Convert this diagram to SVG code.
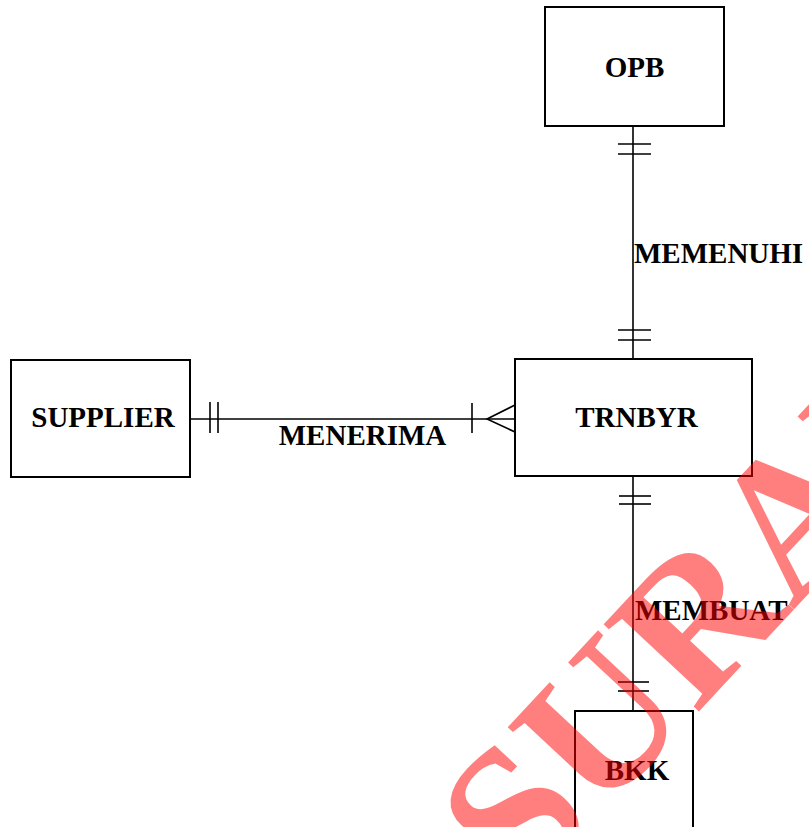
<svg xmlns="http://www.w3.org/2000/svg" width="809" height="827" viewBox="0 0 809 827">
  <style>
    .entity rect { fill: #ffffff; stroke: #000000; stroke-width: 2; }
    .label { font-family: "Liberation Serif", "Times New Roman", serif; font-weight: bold; font-size: 29px; fill: #000000; }
    .centered { text-anchor: middle; }
    .conn line, .conn path { stroke: #000000; stroke-width: 1.6; fill: none; }
    .mark { font-family: "Liberation Serif", "Times New Roman", serif; font-weight: bold; font-size: 197px; fill: #ff0000; }
  </style>
  <rect width="809" height="827" fill="#ffffff"/>

  <!-- relationships -->
  <g id="connectors" class="conn">
    <!-- OPB to TRNBYR: one-to-one -->
    <line x1="633" y1="126" x2="633" y2="359"/>
    <line x1="618" y1="144" x2="651" y2="144"/>
    <line x1="618" y1="154" x2="651" y2="154"/>
    <line x1="618" y1="330" x2="651" y2="330"/>
    <line x1="618" y1="340" x2="651" y2="340"/>

    <!-- SUPPLIER to TRNBYR: one-to-many -->
    <line x1="190" y1="419" x2="515" y2="419"/>
    <line x1="210" y1="402" x2="210" y2="433"/>
    <line x1="218" y1="402" x2="218" y2="433"/>
    <line x1="472" y1="403" x2="472" y2="433"/>
    <path d="M515,405 L487,419 L515,432"/>

    <!-- TRNBYR to BKK: one-to-one -->
    <line x1="633" y1="476" x2="633" y2="711"/>
    <line x1="619" y1="496" x2="651" y2="496"/>
    <line x1="619" y1="504" x2="651" y2="504"/>
    <line x1="618" y1="682" x2="649" y2="682"/>
    <line x1="618" y1="691" x2="649" y2="691"/>
  </g>

  <!-- relationship names -->
  <text class="label" x="634" y="263">MEMENUHI</text>
  <text class="label centered" x="362.5" y="445">MENERIMA</text>
  <text class="label" x="635" y="620">MEMBUAT</text>

  <g id="opb" class="entity">
    <rect x="545" y="7" width="179" height="119"/>
    <text class="label centered" x="634.5" y="77">OPB</text>
  </g>

  <g id="supplier" class="entity">
    <rect x="11" y="360" width="179" height="117"/>
    <text class="label centered" x="103" y="427">SUPPLIER</text>
  </g>

  <g id="trnbyr" class="entity">
    <rect x="515" y="359" width="237" height="117"/>
    <text class="label centered" x="636.5" y="427">TRNBYR</text>
  </g>

  <g id="bkk" class="entity">
    <rect x="575" y="711" width="118" height="130"/>
    <text class="label centered" x="637" y="780">BKK</text>
  </g>

  <!-- stamped watermark, half-transparent red over everything -->
  <g opacity="0.5">
    <text class="mark" transform="translate(524,899) rotate(-47)">SURABAYA</text>
  </g>
</svg>
